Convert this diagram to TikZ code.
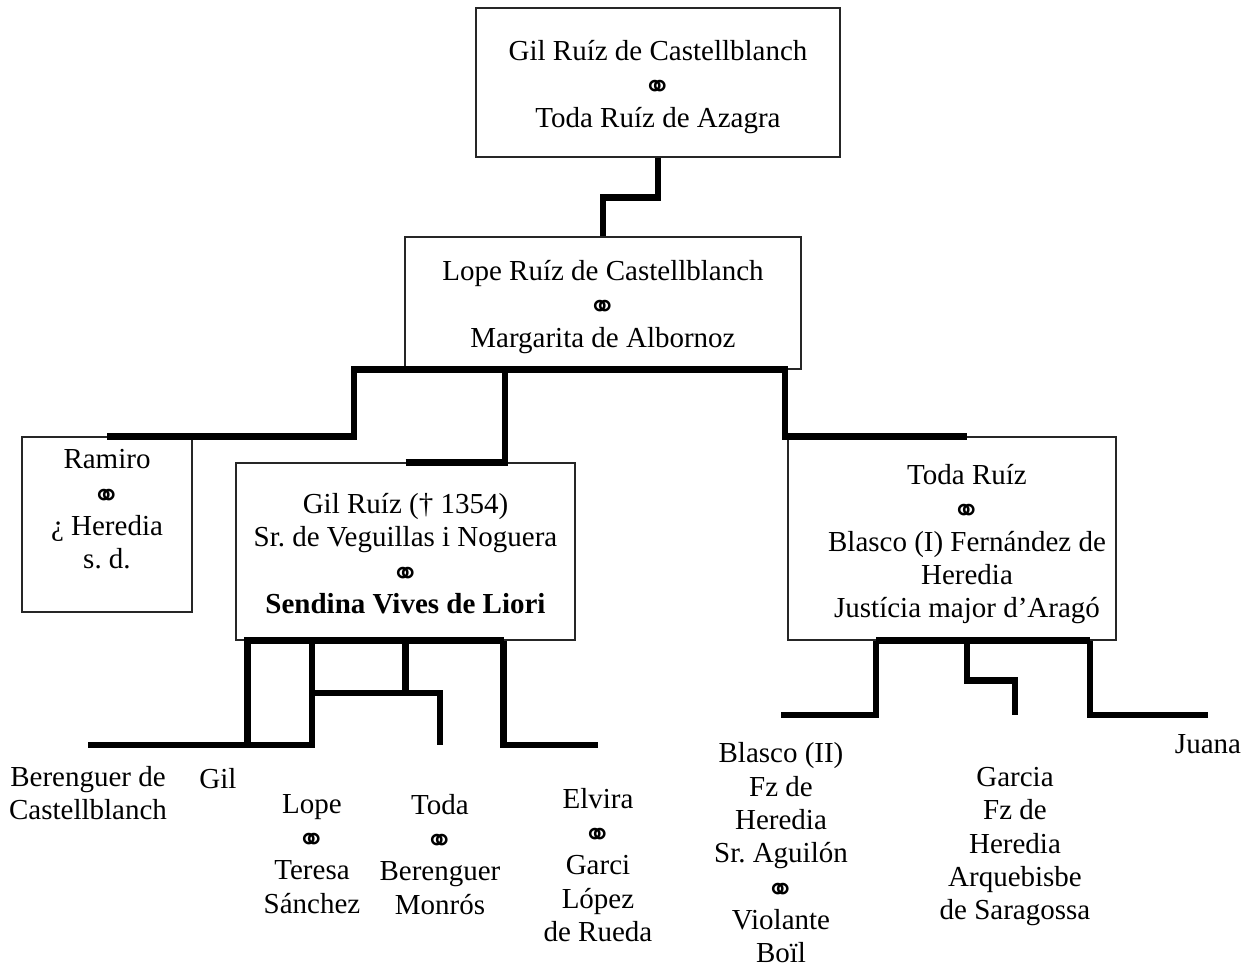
\documentclass[tikz,border=0pt]{standalone}
\usepackage{fontspec}
\setmainfont{Liberation Serif}
\newfontfamily\ringfont{DejaVu Sans}
% marriage sign, set between the two spouses
\newcommand\wedring{\raisebox{-5pt}{\ringfont\fontsize{34}{34}\selectfont ⚭}}
\begin{document}
\frenchspacing
\begin{tikzpicture}[x=1pt,y=-1pt,
  txt/.style={align=center, font=\fontsize{29}{33.3}\selectfont, inner sep=0pt,
              anchor=north, execute at begin node=\strut},
  cadre/.style={draw=black!85, line width=1.4pt, inner sep=0pt},
  kin/.style={line width=6.5pt, line join=miter}]
\useasboundingbox (0,0) rectangle (1254,969);

% levels of the descent lines
\coordinate (gilrow)  at (0,745);
\coordinate (midrow)  at (0,693);
\coordinate (todarow) at (0,715);

% couples in boxes: frame first, then its text
\node[cadre, minimum width=364pt, minimum height=149pt] (top) at (658,82.5) {};
\node[txt] (toptxt) at ([yshift=-33pt]top.north)
  {Gil Ruíz de Castellblanch\\\wedring\\Toda Ruíz de Azagra};
\node[cadre, minimum width=396pt, minimum height=132pt] (lope) at (603,303) {};
\node[txt] (lopetxt) at ([yshift=-24pt]lope.north)
  {Lope Ruíz de Castellblanch\\\wedring\\Margarita de Albornoz};
\node[cadre, minimum width=170pt, minimum height=175pt] (ramiro) at (107,524.5) {};
\node[txt] (ramirotxt) at ([yshift=-13pt]ramiro.north)
  {Ramiro\\\wedring\\¿ Heredia\\s. d.};
\node[cadre, minimum width=339pt, minimum height=177pt] (gil) at (405.5,551.5) {};
\node[txt] (giltxt) at ([yshift=-31pt]gil.north)
  {Gil Ruíz († 1354)\\Sr. de Veguillas i Noguera\\\wedring\\\textbf{Sendina Vives de Liori}};
\node[cadre, minimum width=328pt, minimum height=203pt] (toda) at (952,538.5) {};
\node[txt] (todatxt) at ([xshift=15pt,yshift=-28pt]toda.north)
  {Toda Ruíz\\\wedring\\Blasco (I) Fernández de\\Heredia\\Justícia major d’Aragó};

% children without boxes
\node[txt] (bere)   at (88,766)    {Berenguer de\\Castellblanch};
\node[txt] (gilc)   at (218,765)   {Gil};
\node[txt] (lopec)  at (312,794)   {Lope\\\wedring\\Teresa\\Sánchez};
\node[txt] (todac)  at (440,794)   {Toda\\\wedring\\Berenguer\\Monrós};
\node[txt] (elvira) at (598,788)   {Elvira\\\wedring\\Garci\\López\\de Rueda};
\node[txt] (blasco) at (781,742.5) {Blasco (II)\\Fz de\\Heredia\\Sr. Aguilón\\\wedring\\Violante\\Boïl};
\node[txt] (garcia) at (1015,767)  {Garcia\\Fz de\\Heredia\\Arquebisbe\\de Saragossa};
\node[txt] (juana)  at (1208,730)  {Juana};

% first generation
\draw[kin] (top.south) -- ++(0,40) -| (lope.north);

% children of Lope
\draw[kin] (ramiro.north) -| ([xshift=-249pt]lope.south) -- ([xshift=182pt]lope.south)
  |- (todatxt.north |- toda.north);
\draw[kin] (gil.north) -| ([xshift=-98pt]lope.south);

% children of Gil Ruíz
\draw[kin] ([xshift=98pt]gil.south) -- ([xshift=-158pt]gil.south) -- ++(0,105);
\draw[kin] (bere.north |- gilrow) -| (lopec.north |- gil.south);
\draw[kin] (gil.south) -- (gil.south |- midrow);
\draw[kin] (lopec.north |- midrow) -| (todac.north |- gilrow);
\draw[kin] ([xshift=98pt]gil.south) |- (elvira.north |- gilrow);

% children of Toda Ruíz
\draw[kin] ([xshift=-76pt]toda.south) -- ([xshift=138pt]toda.south);
\draw[kin] ([xshift=-76pt]toda.south) |- (blasco.north |- todarow);
\draw[kin] ([xshift=15pt]toda.south) -- ++(0,40) -| (garcia.north |- todarow);
\draw[kin] ([xshift=138pt]toda.south) |- (juana.north |- todarow);
\end{tikzpicture}
\end{document}
